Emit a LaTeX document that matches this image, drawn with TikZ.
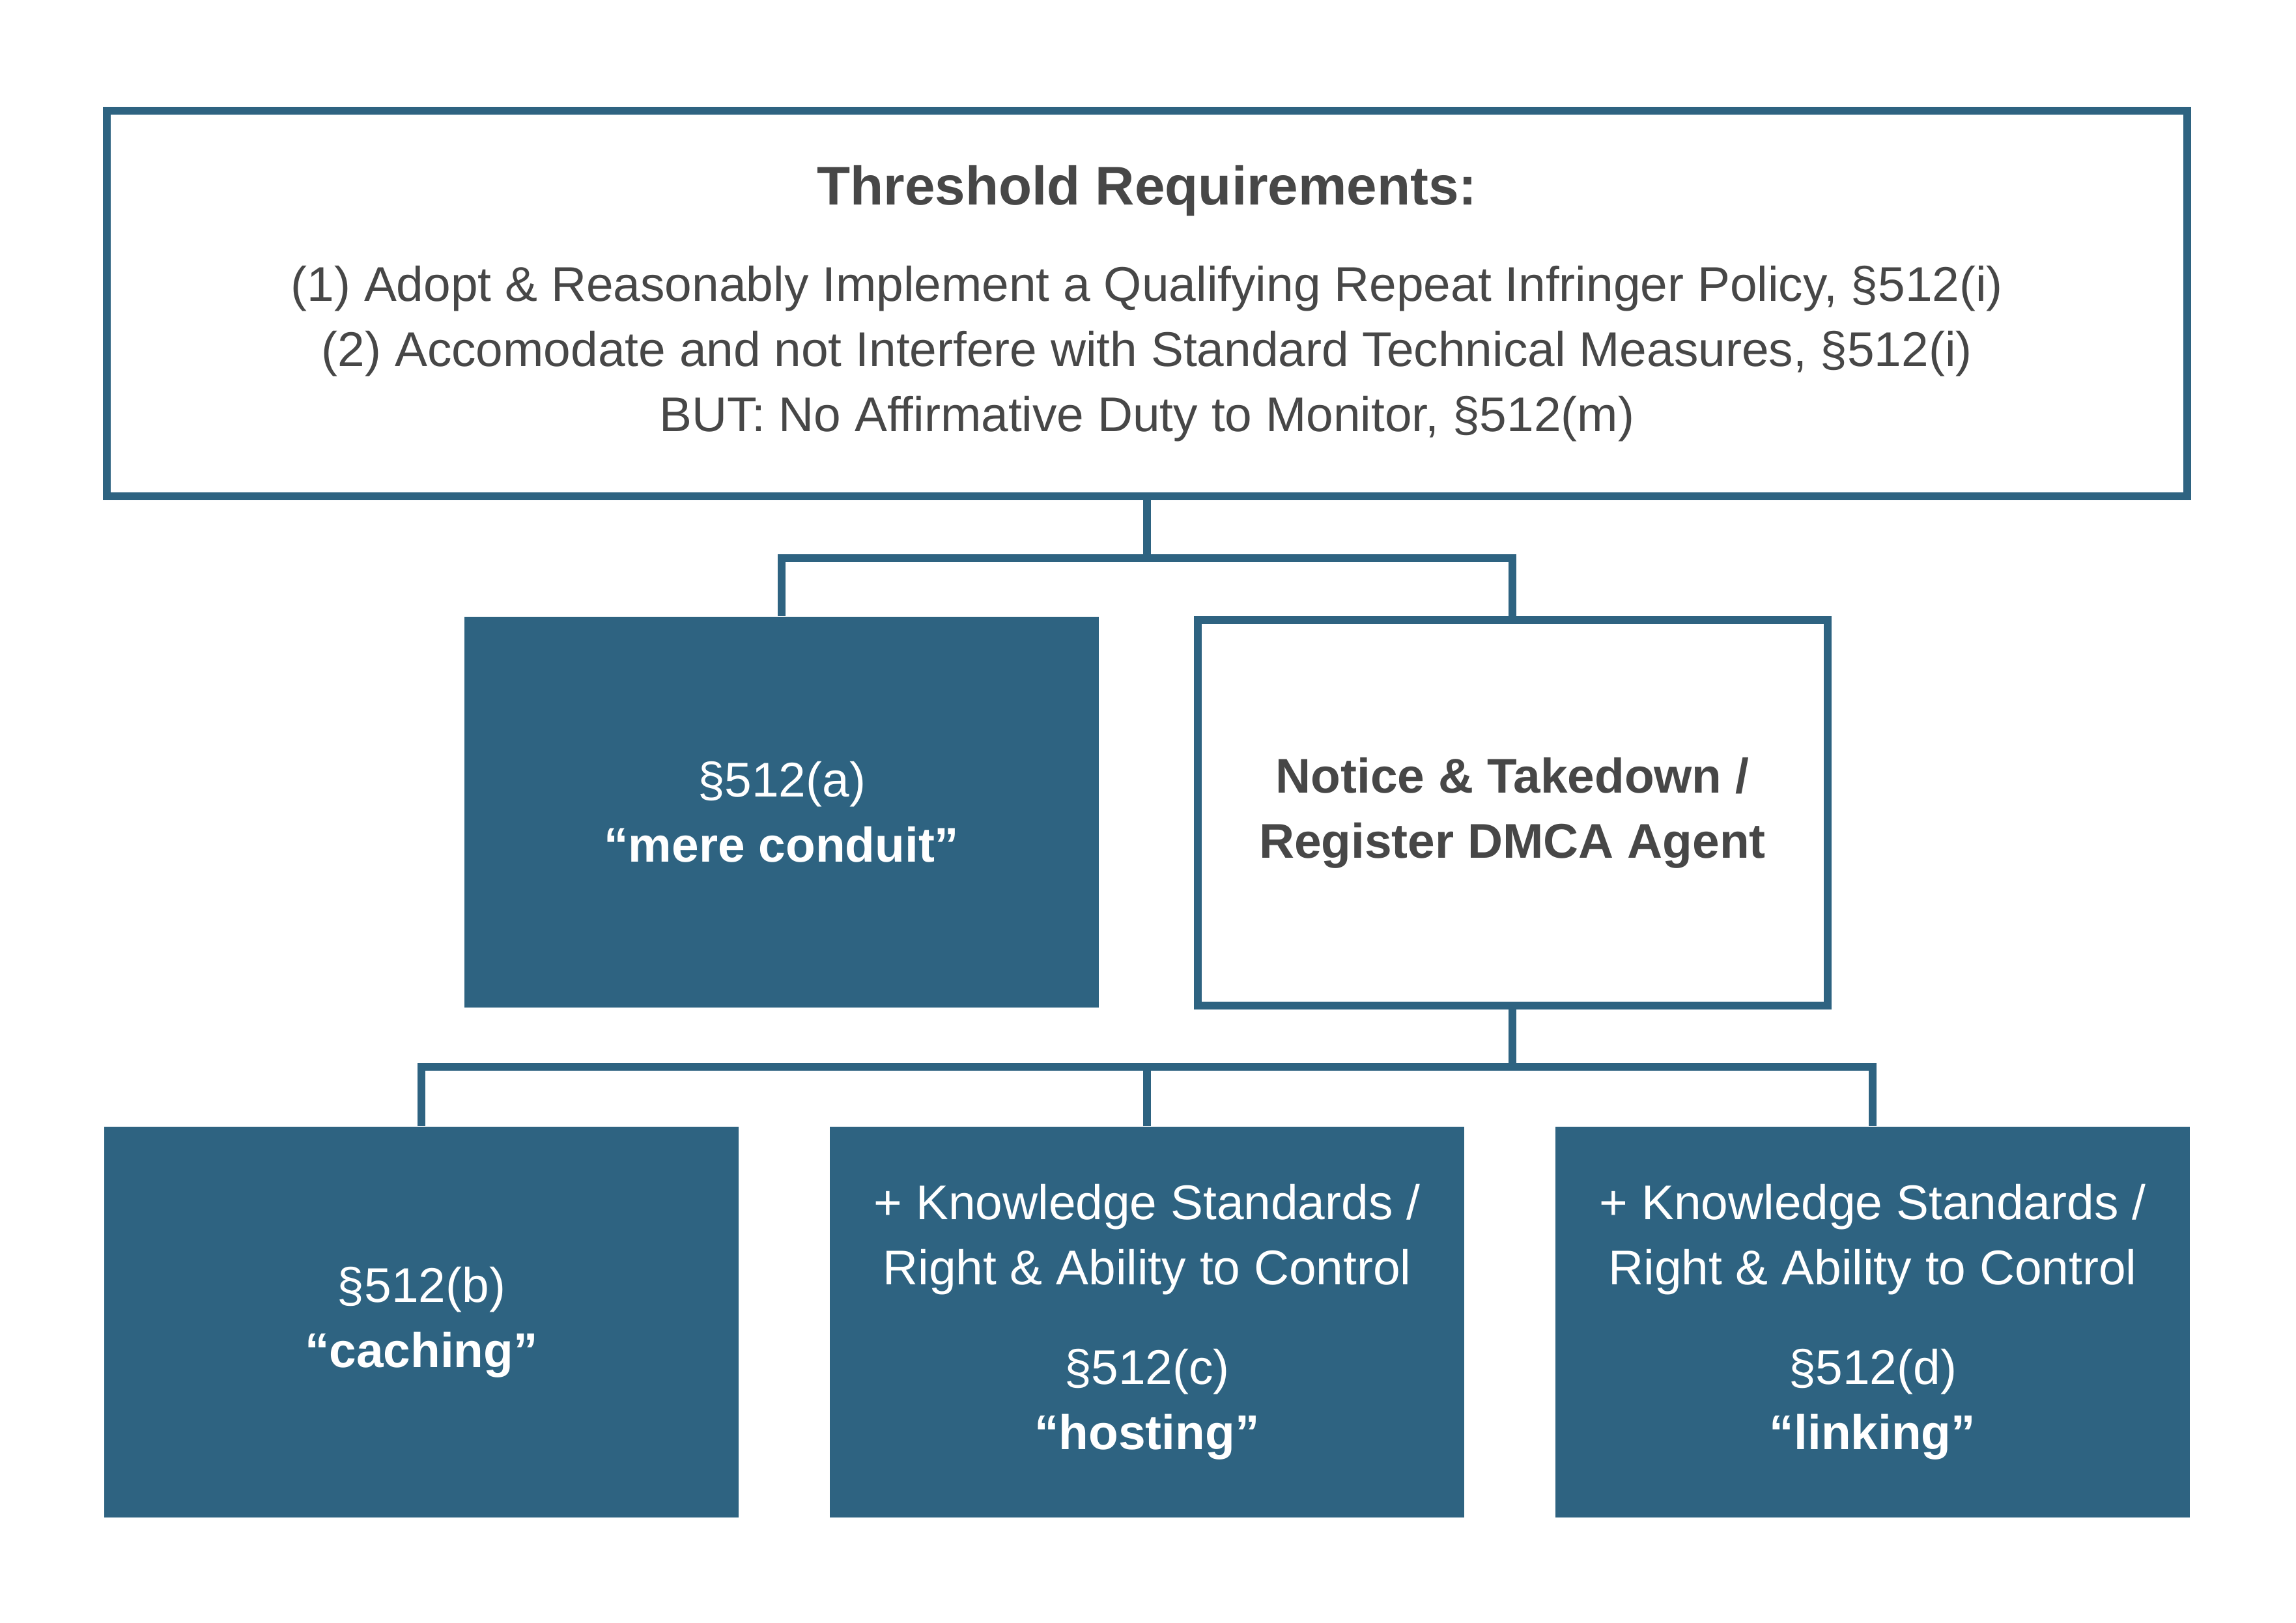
\documentclass[tikz,border=0pt]{standalone}
\usepackage{fontspec}
\setmainfont{Liberation Sans}
\usepackage{tikz}

\definecolor{dmcablue}{HTML}{2E6381}
\definecolor{dmcagray}{HTML}{474747}

\begin{document}
\begin{tikzpicture}[
        outlinebox/.style={rectangle, draw=dmcablue, line width=0.12cm, fill=white, text=dmcagray, align=center, inner sep=0pt},
        filledbox/.style={rectangle, fill=dmcablue, text=white, align=center, inner sep=0pt, minimum width=9.74cm, minimum height=6cm},
        link/.style={draw=dmcablue, line width=0.12cm},
        font=\fontsize{21.3}{28.5}\selectfont
    ]
        \useasboundingbox (0,0) rectangle (35.25,24.92);
        \node[outlinebox, minimum width=31.94cm, minimum height=5.92cm] (threshold) at (17.61,20.26) {{\fontsize{23.8}{28.5}\selectfont\textbf{Threshold Requirements:}}\\[0.48cm]
            (1) Adopt \& Reasonably Implement a Qualifying Repeat Infringer Policy, §512(i)\\
            (2) Accomodate and not Interfere with Standard Technical Measures, §512(i)\\
            BUT: No Affirmative Duty to Monitor, §512(m)};
        \node[filledbox] (conduit) at (12.00,12.45) {§512(a)\\\textbf{“mere conduit”}};
        \node[outlinebox, minimum width=9.67cm, minimum height=5.92cm] (notice) at (23.22,12.44) {\textbf{Notice \& Takedown /}\\\textbf{Register DMCA Agent}};
        \node[filledbox] (caching) at (6.47,4.62) {§512(b)\\\textbf{“caching”}};
        \node[filledbox] (hosting) at (17.61,4.62) {+ Knowledge Standards /\\Right \& Ability to Control\\[0.53cm]§512(c)\\\textbf{“hosting”}};
        \node[filledbox] (linking) at (28.75,4.62) {+ Knowledge Standards /\\Right \& Ability to Control\\[0.53cm]§512(d)\\\textbf{“linking”}};
        % Add junctions of the branches
        \coordinate (j1) at (17.65,16.35);
        \coordinate (j2) at (23.22,8.54);
        \draw[link] (threshold.south) -- (threshold.south |- j1);
        \draw[link] (conduit.north) |- (j1) -| (notice.north);
        \draw[link] (notice.south) -- (j2);
        \draw[link] (caching.north) |- (j2) -| (linking.north);
        \draw[link] (hosting.north) -- (hosting.north |- j2);
    \end{tikzpicture}
\end{document}
